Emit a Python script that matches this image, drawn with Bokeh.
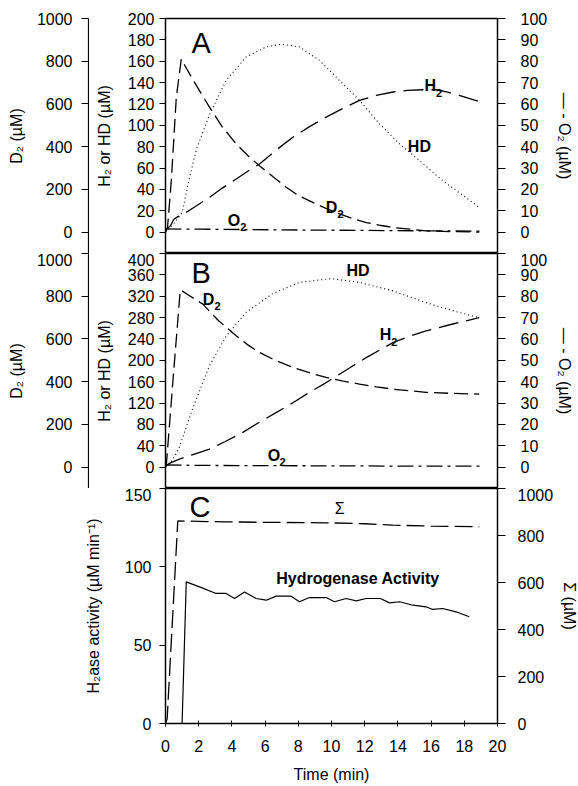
from bokeh.plotting import figure
from bokeh.models import LinearAxis, Range1d, FixedTicker
from bokeh.layouts import column, row
from bokeh.embed import file_html
from bokeh.resources import INLINE
from bokeh.core.properties import value

# ---------------- data ----------------
# Panel A
tA_D2 = [0, 0.12, 0.35, 0.65, 0.95, 1.6, 2.65, 3.4, 4.26, 5.0, 5.66, 6.5, 7.27, 8.0, 8.87, 9.7,
         10.48, 11.3, 12.09, 13.0, 13.7, 15.7, 17.5, 18.9]
D2_A = [0, 20, 240, 630, 810, 720, 585, 495, 413, 355, 311, 258, 210, 172, 139, 110,
        85, 63, 45, 31, 22, 6, 2, 0]
tA_H2 = [0, 0.3, 0.5, 0.8, 1.1, 1.8, 2.65, 3.4, 4.26, 5.0, 5.66, 6.6, 7.67, 8.7, 9.68, 10.7,
         11.69, 12.7, 13.7, 14.6, 15.5, 16.3, 17.0, 17.7, 19.0]
H2_A = [2, 6, 12, 15, 17, 24, 32.6, 41, 49.8, 57.5, 63.8, 76, 88.9, 99, 107.7, 116,
        123.3, 128, 131.2, 132.8, 133.3, 133.3, 131, 128, 121.8]
tA_HD = [0, 0.5, 1.0, 1.4, 1.85, 2.65, 3.65, 4.86, 6.07, 6.97, 8.07, 9.28, 10.48, 11.69,
         12.89, 14.1, 15.3, 16.7, 18.9]
HD_A = [0, 8, 18, 48, 77, 110, 142, 164, 173.4, 175.9, 173.4, 160.8, 142, 123.3,
        101.4, 82.6, 67, 48.2, 23.2]
tA_O2 = [0, 2, 5, 8, 12, 16, 19]
O2_A = [1.5, 1.4, 1.2, 1.0, 0.8, 0.6, 0.5]

# Panel B
tB_D2 = [0, 0.05, 0.5, 0.89, 1.5, 2.25, 3.2, 4.26, 5.0, 5.66, 6.6, 7.67, 8.7, 9.68, 10.7,
         11.69, 12.7, 13.7, 15.7, 17.3, 18.9]
D2_B = [0, 10, 455, 830, 800, 763, 685, 615, 570, 537, 500, 467, 441, 420, 403,
        389, 376, 365, 350, 345, 342]
tB_H2 = [0, 0.3, 0.84, 1.7, 2.65, 3.6, 4.66, 5.6, 6.66, 7.7, 8.67, 9.5, 10.28, 11.2, 12.09,
         13.0, 13.7, 14.7, 15.7, 17.3, 18.9]
H2_B = [2, 8, 15, 24, 33.7, 48, 65, 83, 102, 121, 140, 155, 170, 188, 205,
        221, 233, 245, 255, 268, 280]
tB_HD = [0, 0.4, 0.84, 1.64, 2.65, 3.65, 4.86, 6.46, 8.07, 9.98, 11.69, 13.7, 15.7, 17.3, 18.9]
HD_B = [0, 12, 38, 110, 190, 245, 290, 325, 346, 353, 346, 330, 308, 293, 280]
tB_O2 = [0, 2, 6, 10, 14, 19]
O2_B = [1.0, 0.8, 0.7, 0.6, 0.5, 0.5]

# Panel C
tC_S = [0, 0.1, 0.74, 2, 3.65, 6, 9.68, 12, 13.7, 16, 18.9]
SIGMA = [0, 20, 862, 860, 858, 856, 854, 850, 844, 840, 837]
tC_A = [1.0, 1.25, 2.05, 3.05, 3.65, 4.16, 4.76, 5.46, 6.07, 6.67, 7.57, 8.07, 8.67, 9.68,
        10.18, 10.88, 11.49, 12.09, 12.95, 13.49, 14.1, 14.9, 15.7, 16.1, 16.7, 17.5, 18.3]
ACT = [0, 90.4, 87.2, 83, 83, 79.8, 84, 79.8, 78.7, 81.3, 81.3, 77.7, 80.4, 80.4,
       77.7, 79.8, 78.3, 79.8, 79.8, 77, 77.7, 75.5, 74.5, 72.8, 73.4, 71.3, 68.1]

D2_TICKS = [0, 200, 400, 600, 800, 1000]
O2_TICKS = list(range(0, 101, 10))
A_TICKS = list(range(0, 201, 20))
B_TICKS = list(range(0, 401, 40))
C_TICKS = [0, 50, 100, 150]
SIG_TICKS = [0, 200, 400, 600, 800, 1000]
X_TICKS = list(range(0, 21, 2))

FONT = "Liberation Sans"
FH = 235
FW = 332
TOP = 18
RIGHT = 79


def style_axis(ax, tick_out, standoff, label_standoff, tick_in=0):
    ax.axis_line_color = "black"
    ax.axis_line_width = 1.2
    ax.major_tick_line_color = "black"
    ax.major_tick_out = tick_out
    ax.major_tick_in = tick_in
    ax.minor_tick_out = 0
    ax.minor_tick_in = 0
    ax.major_label_text_font = FONT
    ax.major_label_text_font_size = "16px"
    ax.major_label_text_color = "black"
    ax.major_label_standoff = standoff
    ax.axis_label_text_font = FONT
    ax.axis_label_text_font_size = "16px"
    ax.axis_label_text_font_style = "normal"
    ax.axis_label_text_color = "black"
    ax.axis_label_standoff = label_standoff


def d2_fig(top):
    f = figure(frame_width=1, frame_height=FH, x_range=Range1d(0, 1), y_range=Range1d(-100, 1000),
               x_axis_location=None, toolbar_location=None, output_backend="svg",
               min_border_left=88, min_border_right=0, min_border_top=top, min_border_bottom=0)
    f.outline_line_color = None
    f.xgrid.visible = False
    f.ygrid.visible = False
    ax = f.yaxis[0]
    ax.ticker = FixedTicker(ticks=D2_TICKS)
    ax.axis_label = "D₂ (µM)"
    style_axis(ax, 7, 9, 9)
    return f


def main_fig(yr, top, bottom):
    f = figure(frame_width=FW, frame_height=FH, x_range=Range1d(0, 20), y_range=Range1d(*yr),
               x_axis_location=None, toolbar_location=None,
               output_backend="svg", min_border_left=76, min_border_right=RIGHT,
               min_border_top=top, min_border_bottom=bottom)
    f.outline_line_color = "black"
    f.outline_line_width = 1.3
    f.xgrid.visible = False
    f.ygrid.visible = False
    return f


def labels(f, xs, ys, txt, sx, sy):
    f.text(x=xs, y=ys, text=txt, text_font=value(FONT), text_font_size="16px",
           text_font_style="bold", text_align="left", text_baseline="middle",
           text_color="black")
    f.text(x=sx, y=sy, text=["2"] * len(sx), text_font=value(FONT), text_font_size="11px",
           text_font_style="bold", text_align="left", text_baseline="middle",
           text_color="black")


def panel_letter(f, x, y, t):
    f.text(x=[x], y=[y], text=[t], text_font=value(FONT), text_font_size="29px",
           text_align="left", text_baseline="middle", text_color="black")


LW = 1.3

# ---------------- Panel A ----------------
dA = d2_fig(TOP)
fA = main_fig((-20, 200), TOP, 0)
fA.extra_y_ranges = {"o2": Range1d(-10, 100), "d2": Range1d(-100, 1000)}
axA = fA.yaxis[0]
axA.ticker = FixedTicker(ticks=A_TICKS)
axA.axis_label = "H₂ or HD (µM)"
style_axis(axA, 6, 5, 12)
rA = LinearAxis(y_range_name="o2", ticker=FixedTicker(ticks=O2_TICKS), axis_label="— - O₂ (µM)")
style_axis(rA, 8, 15, 6)
fA.add_layout(rA, "right")

fA.line(tA_HD, HD_A, line_color="black", line_width=1.1, line_dash="1 3")
fA.line(tA_H2, H2_A, line_color="black", line_width=LW, line_dash="20 8")
fA.line(tA_D2, D2_A, line_color="black", line_width=LW, line_dash="14 6", y_range_name="d2")
fA.line(tA_O2, O2_A, line_color="black", line_width=LW, line_dash="16 5 3 5", y_range_name="o2")
labels(fA, [15.6, 14.6, 9.65, 3.75], [137, 80, 23.5, 11.3], ["H", "HD", "D", "O"],
       [16.3, 10.36, 4.5], [130.5, 17, 4.7])
panel_letter(fA, 1.57, 177, "A")

# ---------------- Panel B ----------------
dB = d2_fig(0)
fB = main_fig((-40, 400), 0, 0)
fB.extra_y_ranges = {"o2": Range1d(-10, 100), "d2": Range1d(-100, 1000)}
axB = fB.yaxis[0]
axB.ticker = FixedTicker(ticks=B_TICKS)
axB.axis_label = "H₂ or HD (µM)"
style_axis(axB, 6, 5, 12)
rB = LinearAxis(y_range_name="o2", ticker=FixedTicker(ticks=O2_TICKS), axis_label="— - O₂ (µM)")
style_axis(rB, 8, 15, 6)
fB.add_layout(rB, "right")

fB.line(tB_HD, HD_B, line_color="black", line_width=1.1, line_dash="1 3")
fB.line(tB_H2, H2_B, line_color="black", line_width=LW, line_dash="20 8")
fB.line(tB_D2, D2_B, line_color="black", line_width=LW, line_dash="14 6", y_range_name="d2")
fB.line(tB_O2, O2_B, line_color="black", line_width=LW, line_dash="16 5 3 5", y_range_name="o2")
labels(fB, [10.9, 2.25, 12.9, 6.16], [367.6, 314.6, 249, 21], ["HD", "D", "H", "O"],
       [2.95, 13.6, 6.87], [301.5, 234, 9.4])
panel_letter(fB, 1.57, 363, "B")

# ---------------- Panel C ----------------
fC = figure(frame_width=FW, frame_height=FH, x_range=Range1d(0, 20), y_range=Range1d(0, 150),
            toolbar_location=None, output_backend="svg", min_border_left=165,
            min_border_right=RIGHT, min_border_top=0, min_border_bottom=62)
fC.outline_line_color = "black"
fC.outline_line_width = 1.3
fC.xgrid.visible = False
fC.ygrid.visible = False
fC.extra_y_ranges = {"sig": Range1d(0, 1000)}
axC = fC.yaxis[0]
axC.ticker = FixedTicker(ticks=C_TICKS)
axC.axis_label = "H₂ase activity (µM min⁻¹)"
style_axis(axC, 6, 8, 20)
xC = fC.xaxis[0]
xC.ticker = FixedTicker(ticks=X_TICKS)
xC.axis_label = "Time (min)"
style_axis(xC, 3, 13, 11, tick_in=3)
rC = LinearAxis(y_range_name="sig", ticker=FixedTicker(ticks=SIG_TICKS), axis_label="Σ (µM)")
style_axis(rC, 8, 12, 5)
fC.add_layout(rC, "right")

fC.line(tC_S, SIGMA, line_color="black", line_width=LW, line_dash="18 6", y_range_name="sig")
fC.line(tC_A, ACT, line_color="black", line_width=1.2)
fC.text(x=[10.5], y=[137.2], text=["Σ"], text_font=value(FONT), text_font_size="16px",
        text_align="center", text_baseline="middle", text_color="black")
fC.text(x=[6.67], y=[92.5], text=["Hydrogenase Activity"], text_font=value(FONT),
        text_font_size="16px", text_font_style="bold", text_align="left",
        text_baseline="middle", text_color="black")
panel_letter(fC, 1.45, 138, "C")

layout = column(row(dA, fA), row(dB, fB), fC)
open("out.html", "w").write(file_html(layout, INLINE))
